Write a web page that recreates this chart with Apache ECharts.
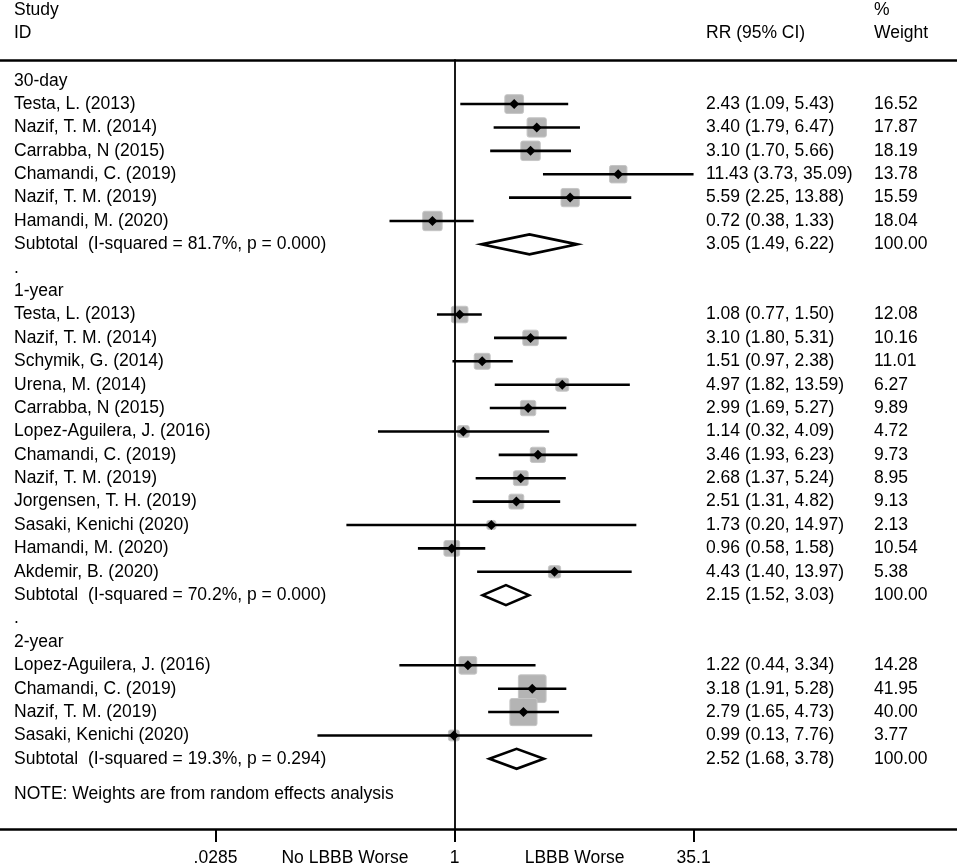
<!DOCTYPE html>
<html lang="en">
<head>
    <meta charset="UTF-8">
    <title>Forest plot - LBBB</title>
    <script src="https://cdn.jsdelivr.net/npm/echarts@6/dist/echarts.min.js"></script>
    <style>
        html, body { margin: 0; padding: 0; background: #fff; }
        #main { width: 957px; height: 867px; }
    </style>
</head>
<body>
    <div id="main"></div>
    <script>
        // subgroups
        var groupNames = ['30-day', '1-year', '2-year'];
        var subI2 = ['81.7%', '70.2%', '19.3%'];
        var subP = ['0.000', '0.000', '0.294'];
        var subRR = [3.05, 2.15, 2.52];
        var subLo = [1.49, 1.52, 1.68];
        var subHi = [6.22, 3.03, 3.78];

        // studies (group index, name, RR, lower, upper, weight)
        var studyGroup = [0, 0, 0, 0, 0, 0,
            1, 1, 1, 1, 1, 1, 1, 1, 1, 1, 1, 1,
            2, 2, 2, 2];
        var studyNames = [
            'Testa, L. (2013)', 'Nazif, T. M. (2014)', 'Carrabba, N (2015)',
            'Chamandi, C. (2019)', 'Nazif, T. M. (2019)', 'Hamandi, M. (2020)',
            'Testa, L. (2013)', 'Nazif, T. M. (2014)', 'Schymik, G. (2014)',
            'Urena, M. (2014)', 'Carrabba, N (2015)', 'Lopez-Aguilera, J. (2016)',
            'Chamandi, C. (2019)', 'Nazif, T. M. (2019)', 'Jorgensen, T. H. (2019)',
            'Sasaki, Kenichi (2020)', 'Hamandi, M. (2020)', 'Akdemir, B. (2020)',
            'Lopez-Aguilera, J. (2016)', 'Chamandi, C. (2019)', 'Nazif, T. M. (2019)',
            'Sasaki, Kenichi (2020)'
        ];
        var studyRR = [2.43, 3.40, 3.10, 11.43, 5.59, 0.72,
            1.08, 3.10, 1.51, 4.97, 2.99, 1.14, 3.46, 2.68, 2.51, 1.73, 0.96, 4.43,
            1.22, 3.18, 2.79, 0.99];
        var studyLo = [1.09, 1.79, 1.70, 3.73, 2.25, 0.38,
            0.77, 1.80, 0.97, 1.82, 1.69, 0.32, 1.93, 1.37, 1.31, 0.20, 0.58, 1.40,
            0.44, 1.91, 1.65, 0.13];
        var studyHi = [5.43, 6.47, 5.66, 35.09, 13.88, 1.33,
            1.50, 5.31, 2.38, 13.59, 5.27, 4.09, 6.23, 5.24, 4.82, 14.97, 1.58, 13.97,
            3.34, 5.28, 4.73, 7.76];
        var studyW = [16.52, 17.87, 18.19, 13.78, 15.59, 18.04,
            12.08, 10.16, 11.01, 6.27, 9.89, 4.72, 9.73, 8.95, 9.13, 2.13, 10.54, 5.38,
            14.28, 41.95, 40.00, 3.77];

        // x axis ticks
        var tickValues = [0.0285, 1, 35.1];
        var tickLabels = ['.0285', '1', '35.1'];
        var favourLabels = ['No LBBB Worse', 'LBBB Worse'];
        var favourPos = [-0.708, 0.776]; // log10 position of the favour texts
        var note = 'NOTE: Weights are from random effects analysis';

        var FONT = '"Liberation Sans", Arial, sans-serif';
        var FS = 17.5;
        var COL_NAME = 14, COL_CI = 706, COL_W = 874;

        function fmt(v) { return v.toFixed(2); }
        function lg(v) { return Math.log10(v); }

        // build rows
        var textRows = [], studyData = [], subData = [];
        var row = 0;
        groupNames.forEach(function (g, gi) {
            textRows.push([0, row, g, '', '']);
            row++;
            studyNames.forEach(function (n, i) {
                if (studyGroup[i] !== gi) return;
                textRows.push([0, row, n,
                    fmt(studyRR[i]) + ' (' + fmt(studyLo[i]) + ', ' + fmt(studyHi[i]) + ')',
                    fmt(studyW[i])]);
                studyData.push([lg(studyRR[i]), row, lg(studyLo[i]), lg(studyHi[i]), studyW[i]]);
                row++;
            });
            textRows.push([0, row, 'Subtotal  (I-squared = ' + subI2[gi] + ', p = ' + subP[gi] + ')',
                fmt(subRR[gi]) + ' (' + fmt(subLo[gi]) + ', ' + fmt(subHi[gi]) + ')', '100.00']);
            subData.push([lg(subRR[gi]), row, lg(subLo[gi]), lg(subHi[gi])]);
            row++;
            if (gi < groupNames.length - 1) {
                textRows.push([0, row, '.', '', '']);
                row++;
            }
        });
        textRows.push([0, row + 0.5, note, '', '']);

        var labelValues = tickValues.map(lg).concat(favourPos);
        var labelTexts = tickLabels.concat(favourLabels);

        var myChart = echarts.init(document.getElementById('main'));

        var option = {
            backgroundColor: '#fff',
            animation: false,
            textStyle: { fontFamily: FONT },
            grid: { left: 0, right: 0, top: 60, bottom: 37 },
            graphic: [
                { type: 'text', left: COL_NAME, top: 1, style: { text: 'Study', font: FS + 'px ' + FONT, fill: '#000' } },
                { type: 'text', left: COL_NAME, top: 24, style: { text: 'ID', font: FS + 'px ' + FONT, fill: '#000' } },
                { type: 'text', left: COL_CI, top: 24, style: { text: 'RR (95% CI)', font: FS + 'px ' + FONT, fill: '#000' } },
                { type: 'text', left: COL_W, top: 1, style: { text: '%', font: FS + 'px ' + FONT, fill: '#000' } },
                { type: 'text', left: COL_W, top: 24, style: { text: 'Weight', font: FS + 'px ' + FONT, fill: '#000' } }
            ],
            xAxis: [{
                type: 'value',
                position: 'bottom',
                min: -2.938,
                max: 3.248,
                splitLine: { show: false },
                axisLine: { show: true, onZero: false, lineStyle: { color: '#000', width: 2.5 } },
                axisTick: {
                    show: true, length: 13, inside: false,
                    customValues: tickValues.map(lg),
                    lineStyle: { color: '#000', width: 2 }
                },
                axisLabel: {
                    customValues: labelValues,
                    margin: 20,
                    color: '#000',
                    fontSize: FS,
                    fontFamily: FONT,
                    formatter: function (v) {
                        for (var i = 0; i < labelValues.length; i++) {
                            if (Math.abs(labelValues[i] - v) < 1e-6) return labelTexts[i];
                        }
                        return '';
                    }
                }
            }, {
                type: 'value',
                position: 'top',
                min: -2.938,
                max: 3.248,
                splitLine: { show: false },
                axisLine: { show: true, onZero: false, lineStyle: { color: '#000', width: 2.5 } },
                axisTick: { show: false },
                axisLabel: { show: false }
            }],
            yAxis: {
                type: 'value',
                inverse: true,
                min: -0.884,
                max: 32,
                z: 3,
                splitLine: { show: false },
                axisTick: { show: false },
                axisLabel: { show: false },
                axisLine: { show: true, onZero: true, lineStyle: { color: '#000', width: 1.8 } }
            },
            series: [{
                name: 'studies',
                type: 'custom',
                data: studyData,
                renderItem: function (params, api) {
                    var r = api.value(1);
                    var c = api.coord([api.value(0), r]);
                    var l = api.coord([api.value(2), r]);
                    var h = api.coord([api.value(3), r]);
                    var s = 3.6 + 3.72 * Math.sqrt(api.value(4));
                    var d = 5;
                    return {
                        type: 'group',
                        children: [{
                            type: 'rect',
                            shape: { x: c[0] - s / 2, y: c[1] - s / 2, width: s, height: s, r: 2 },
                            style: { fill: '#b4b4b4', stroke: '#c6c6c6', lineWidth: 1 }
                        }, {
                            type: 'line',
                            shape: { x1: l[0], y1: l[1], x2: h[0], y2: h[1] },
                            style: { stroke: '#000', lineWidth: 2.6 }
                        }, {
                            type: 'polygon',
                            shape: { points: [[c[0] - d, c[1]], [c[0], c[1] - d], [c[0] + d, c[1]], [c[0], c[1] + d]] },
                            style: { fill: '#000' }
                        }]
                    };
                }
            }, {
                name: 'subtotals',
                type: 'custom',
                data: subData,
                renderItem: function (params, api) {
                    var r = api.value(1);
                    var c = api.coord([api.value(0), r]);
                    var l = api.coord([api.value(2), r]);
                    var h = api.coord([api.value(3), r]);
                    return {
                        type: 'polygon',
                        shape: { points: [[l[0], c[1]], [c[0], c[1] - 10], [h[0], c[1]], [c[0], c[1] + 10]] },
                        style: { fill: '#fff', stroke: '#000', lineWidth: 2.6, lineJoin: 'miter' }
                    };
                }
            }, {
                name: 'text',
                type: 'custom',
                data: textRows,
                renderItem: function (params, api) {
                    var y = api.coord([0, api.value(1)])[1];
                    var item = textRows[params.dataIndex];
                    var st = function (x, t) {
                        return {
                            type: 'text',
                            style: {
                                text: t, x: x, y: y, fill: '#000',
                                font: FS + 'px ' + FONT,
                                align: 'left', verticalAlign: 'middle'
                            }
                        };
                    };
                    return {
                        type: 'group',
                        children: [st(COL_NAME, item[2]), st(COL_CI, item[3]), st(COL_W, item[4])]
                    };
                }
            }]
        };

        myChart.setOption(option);
        window.onresize = myChart.resize;
    </script>
</body>
</html>
